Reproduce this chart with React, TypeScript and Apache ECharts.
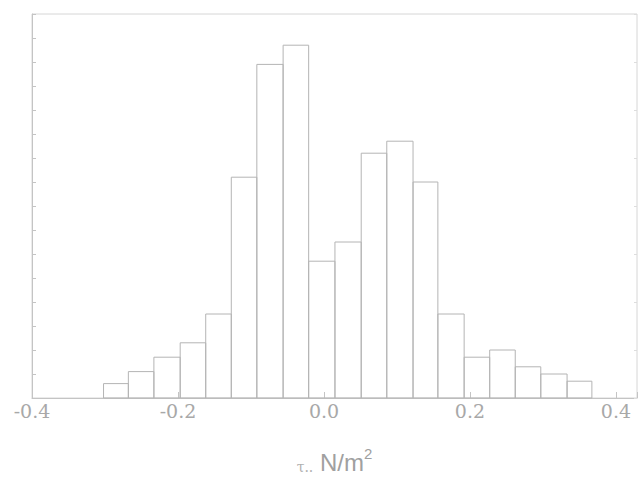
import React, { useEffect, useRef } from "react";
import * as echarts from "echarts";

// Histogram bin edges (τ, N/m²)
const binEdges = [
  -0.302, -0.268, -0.233, -0.197, -0.162, -0.127, -0.092, -0.056, -0.021, 0.015,
  0.051, 0.086, 0.122, 0.156, 0.192, 0.227, 0.262, 0.297, 0.333, 0.367,
];
// Percentage of observations in each bin
const percents = [
  0.6, 1.1, 1.7, 2.3, 3.5, 9.2, 13.9, 14.7, 5.7, 6.5, 10.2, 10.7, 9.0, 3.5, 1.7, 2.0,
  1.3, 1.0, 0.7,
];
const xTickLabels = ["-0.4", "-0.2", "0.0", "0.2", "0.4"];

const SERIF = "DejaVu Serif";

export default function App() {
  const ref = useRef<HTMLDivElement>(null);
  useEffect(() => {
    if (!ref.current) return;
    const chart = echarts.init(ref.current, null, { renderer: "svg" });
    const data = percents.map((p, i) => [binEdges[i], binEdges[i + 1], p]);
    const lineCol = "#c4c4c4";
    chart.setOption({
      animation: false,
      backgroundColor: "#ffffff",
      grid: { left: 32, right: 2, top: 14, bottom: 86, show: true, borderColor: "#d6d6d6", borderWidth: 1 },
      xAxis: {
        type: "value",
        min: -0.4,
        max: 0.4288,
        interval: 0.2,
        splitLine: { show: false },
        axisLine: { show: true, onZero: false, lineStyle: { color: lineCol, width: 1 } },
        axisTick: { show: true, inside: true, length: 6, lineStyle: { color: lineCol } },
        axisLabel: {
          margin: 3,
          color: "#a8a8a8",
          fontFamily: SERIF,
          fontSize: 19,
          formatter: (v: number) => {
            const k = Math.round(v * 5);
            if (Math.abs(v * 5 - k) > 1e-6) return "";
            return xTickLabels[k + 2] ?? "";
          },
        },
        name: "{t|τ..}  {u|N/m}{s|2}",
        nameLocation: "middle",
        nameGap: 48,
        nameTextStyle: {
          rich: {
            t: { fontFamily: SERIF, fontSize: 14, color: "#b0b0b0", lineHeight: 28, verticalAlign: "bottom" },
            u: { fontFamily: "Liberation Sans", fontSize: 24, color: "#a0a0a0", lineHeight: 28, verticalAlign: "bottom" },
            s: { fontFamily: "Liberation Sans", fontSize: 15, color: "#a0a0a0", lineHeight: 28, verticalAlign: "top" },
          },
        },
      },
      yAxis: [
        {
          type: "value",
          min: 0,
          max: 16,
          interval: 1,
          splitLine: { show: false },
          axisLine: { show: true, onZero: false, lineStyle: { color: lineCol } },
          axisTick: { show: true, inside: true, length: 4, lineStyle: { color: lineCol } },
          axisLabel: { show: false },
        },
        {
          type: "value",
          position: "right",
          min: 0,
          max: 16,
          interval: 2,
          splitLine: { show: false },
          axisLine: { show: false, onZero: false },
          axisTick: { show: true, inside: true, length: 3, lineStyle: { color: "#dddddd" } },
          axisLabel: { show: false },
        },
      ],
      series: [
        {
          type: "custom",
          data,
          encode: { x: [0, 1], y: 2 },
          renderItem: (params: any, api: any) => {
            const x0 = api.value(0);
            const x1 = api.value(1);
            const y = api.value(2);
            const p0 = api.coord([x0, y]);
            const p1 = api.coord([x1, 0]);
            return {
              type: "rect",
              shape: { x: p0[0], y: p0[1], width: p1[0] - p0[0], height: p1[1] - p0[1] },
              style: { fill: "none", stroke: "#b4b4b4", lineWidth: 1 },
            };
          },
        },
      ],
    });
    return () => chart.dispose();
  }, []);
  return (
    <div
      ref={ref}
      style={{ position: "fixed", left: 0, top: 0, width: 640, height: 484, background: "#fff" }}
    />
  );
}
